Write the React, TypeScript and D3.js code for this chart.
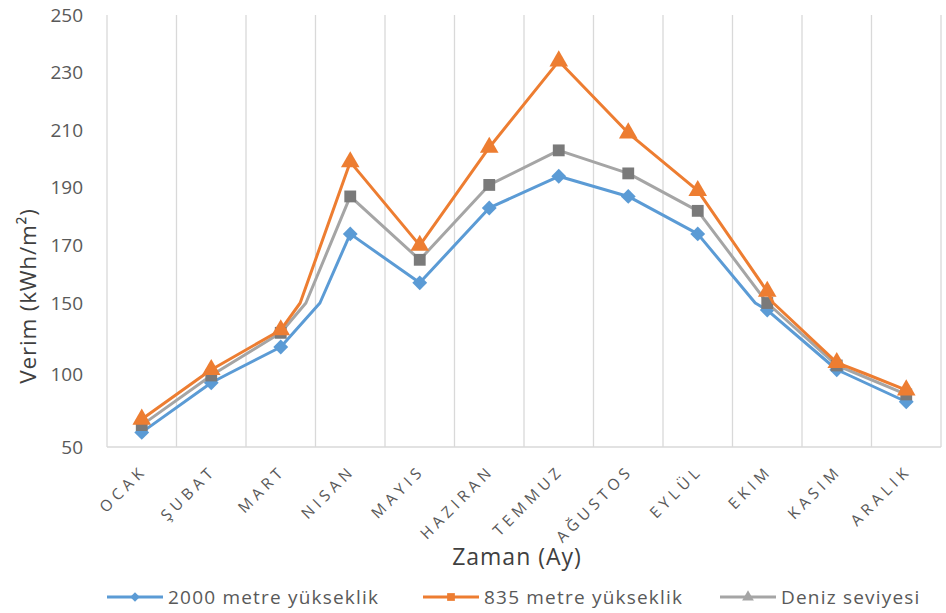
import React from "react";
import * as d3 from "d3";

const months = ["OCAK", "ŞUBAT", "MART", "NISAN", "MAYIS", "HAZIRAN", "TEMMUZ", "AĞUSTOS", "EYLÜL", "EKIM", "KASIM", "ARALIK"];
const s2000 = [60, 94, 119, 174, 157, 183, 194, 187, 174, 145, 103, 81];
const s835 = [69, 103, 131, 199, 170, 204, 234, 209, 189, 154, 108, 89];
const sDeniz = [65, 99, 129, 187, 165, 191, 203, 195, 182, 150, 106, 86];
const yTicks = [50, 100, 150, 170, 190, 210, 230, 250];
const legendNames = ["2000 metre yükseklik", "835 metre yükseklik", "Deniz seviyesi"];

const W = 946, H = 613;
const left = 107, right = 941, top = 15, bottom = 447;
const FONT = "'Open Sans', 'Noto Sans', sans-serif";

export default function App() {
  const x = d3.scaleBand<string>().domain(months).range([left, right]);
  const y = d3.scaleLinear().domain([50, 100, 150, 250]).range([bottom, 374, 303, top]);
  const knots = y.domain();
  const cx = (i: number) => (x(months[i]) as number) + x.bandwidth() / 2;

  // line path mapped through the piecewise scale (breaks where segments cross scale knots)
  const pathFor = (vals: number[]) => {
    const pts: [number, number][] = [];
    vals.forEach((v, i) => {
      if (i > 0) {
        const a = vals[i - 1];
        const ks = knots.filter(k => (k - a) * (k - v) < 0);
        ks.sort((p, q) => (v > a ? p - q : q - p));
        ks.forEach(k => {
          const t = (k - a) / (v - a);
          pts.push([cx(i - 1) + t * (cx(i) - cx(i - 1)), y(k)]);
        });
      }
      pts.push([cx(i), y(v)]);
    });
    return d3.line()(pts) as string;
  };

  const series = [
    { name: legendNames[0], vals: s2000, color: "#5B9BD5", mColor: "#5B9BD5", plotSym: "diamond", legSym: "diamond" },
    { name: legendNames[1], vals: s835, color: "#ED7D31", mColor: "#ED7D31", plotSym: "triangle", legSym: "square" },
    { name: legendNames[2], vals: sDeniz, color: "#A5A5A5", mColor: "#7A7A7A", plotSym: "square", legSym: "triangle" },
  ];
  const drawOrder = [series[0], series[2], series[1]];
  const marker = (kind: string, size: number) => {
    if (kind === "diamond") return { d: d3.symbol().type(d3.symbolSquare).size(size)() as string, rot: 45 };
    if (kind === "triangle") return { d: d3.symbol().type(d3.symbolTriangle).size(size)() as string, rot: 0 };
    return { d: d3.symbol().type(d3.symbolSquare).size(size)() as string, rot: 0 };
  };
  const plotSize: Record<string, number> = { diamond: 110, triangle: 150, square: 140 };

  const gridXs = d3.range(months.length + 1).map(i => left + i * x.step());
  const legendX = [107, 423, 720];

  return (
    <svg width={W} height={H} style={{ position: "absolute", left: 0, top: 0, background: "#fff" }}>
      {gridXs.map((gx, i) => (
        <line key={i} x1={gx} x2={gx} y1={top} y2={bottom} stroke="#D9D9D9" strokeWidth={1.3} />
      ))}
      <line x1={left} x2={right} y1={bottom} y2={bottom} stroke="#D9D9D9" strokeWidth={1.5} />
      {yTicks.map(t => (
        <text key={t} x={83} y={y(t)} dy="0.35em" textAnchor="end" fontFamily={FONT} fontSize={19} fill="#595959">{t}</text>
      ))}
      {months.map((m, i) => (
        <g key={m} transform={`translate(${cx(i) - 1},${bottom + 24})`}>
          <text transform="rotate(-45)" textAnchor="end" dy="0.35em"
            fontFamily={FONT} fontSize={15.5} fill="#595959">
            {Array.from(m).map((ch, j) => (
              <tspan key={j} dx={j === 0 ? 0 : 4.5}>{ch}</tspan>
            ))}
          </text>
        </g>
      ))}
      {drawOrder.map(s => {
        const mk = marker(s.plotSym, plotSize[s.plotSym]);
        return (
          <g key={s.name}>
            <path d={pathFor(s.vals)} fill="none" stroke={s.color} strokeWidth={3} strokeLinejoin="round" />
            {s.vals.map((v, i) => (
              <path key={i} d={mk.d} transform={`translate(${cx(i)},${y(v)}) rotate(${mk.rot})`} fill={s.mColor} />
            ))}
          </g>
        );
      })}
      <text transform="translate(28,296) rotate(-90)" textAnchor="middle" dy="0.35em" fontFamily={FONT} fontSize={22.5} letterSpacing={0.8} fill="#404040">
        Verim (kWh/m²)
      </text>
      <text x={517} y={557} dy="0.35em" textAnchor="middle" fontFamily={FONT} fontSize={23} letterSpacing={1} fill="#404040">Zaman (Ay)</text>
      {series.map((s, i) => {
        const mk = marker(s.legSym, s.legSym === "diamond" ? 45 : 60);
        return (
          <g key={s.name} transform={`translate(${legendX[i]},597)`}>
            <line x1={0} x2={56} y1={0} y2={0} stroke={s.color} strokeWidth={3} />
            <path d={mk.d} transform={`translate(28,0) rotate(${mk.rot})`} fill={s.mColor === "#7A7A7A" ? "#A5A5A5" : s.mColor} />
            <text x={61} y={0} dy="0.35em" fontFamily={FONT} fontSize={19} letterSpacing={1.2} fill="#595959">{s.name}</text>
          </g>
        );
      })}
    </svg>
  );
}
